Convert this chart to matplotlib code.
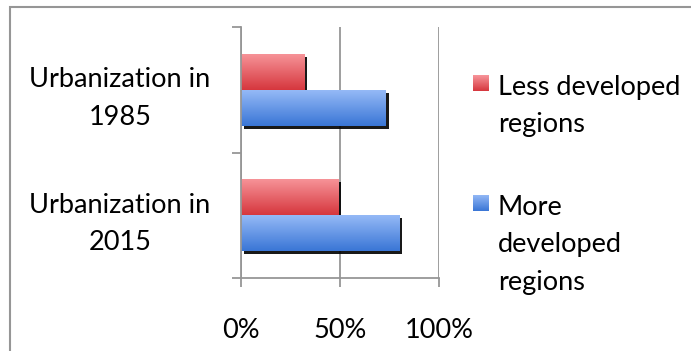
import numpy as np
import matplotlib
matplotlib.use("Agg")
import matplotlib.pyplot as plt
from matplotlib.colors import LinearSegmentedColormap
from matplotlib.transforms import ScaledTranslation
from matplotlib.patches import Rectangle

# data (share of population living in urban areas)
categories = ["Urbanization in\n1985", "Urbanization in\n2015"]
less_developed = [0.32, 0.49]
more_developed = [0.73, 0.80]
series_names = ["Less developed\nregions", "More\ndeveloped\nregions"]

red_top, red_bot = "#f7959a", "#d6373e"
blue_top, blue_bot = "#97bbf7", "#3a76d6"
grid_col = "#969696"
font = "Lato"
fsize = 19.5
lsp = 1.62

plt.rcParams['font.family'] = [font, 'DejaVu Sans']

fig = plt.figure(figsize=(6.91, 3.51), dpi=100)
ax = fig.add_axes([241 / 691, 1 - 278 / 351, 198 / 691, 251 / 351])

ypos = np.arange(len(categories))[::-1]  # first category at top
h = 0.287
shadow = ax.transData + ScaledTranslation(3 / 100, -3 / 100, fig.dpi_scale_trans)
grad = np.linspace(0, 1, 64).reshape(-1, 1)


def make_cmap(top, bottom):
    return LinearSegmentedColormap.from_list("g", [top, bottom])


def gradient_bar(y, w, top, bottom):
    ax.barh(y, w, height=h, color="black", alpha=0.9, zorder=2, transform=shadow)
    bar = ax.barh(y, w, height=h, color="none", zorder=3)[0]
    im = ax.imshow(grad, extent=(0, w, y - h / 2, y + h / 2), aspect="auto",
                   cmap=make_cmap(top, bottom), origin="upper", zorder=3)
    im.set_clip_path(bar)


for y, v in zip(ypos, less_developed):
    gradient_bar(y + h / 2, v, red_top, red_bot)
for y, v in zip(ypos, more_developed):
    gradient_bar(y - h / 2, v, blue_top, blue_bot)

ax.set_xlim(0, 1)
ax.set_ylim(-0.5, 1.5)

ax.set_xticks([0, 0.5, 1])
ax.set_xticklabels(["0%", "50%", "100%"])
ax.set_yticks([-0.5, 0.5, 1.5])
ax.set_yticklabels([])
ax.set_yticks(ypos, minor=True)
ax.set_yticklabels(categories, minor=True)
for t in ax.get_yticklabels(minor=True):
    t.set_multialignment("center")
    t.set_linespacing(lsp)

ax.tick_params(axis="x", direction="out", length=6.5, width=1.3, color=grid_col,
               labelsize=fsize, pad=22)
ax.tick_params(axis="y", which="major", direction="out", length=6.5, width=1.3, color=grid_col)
ax.tick_params(axis="y", which="minor", length=0, labelsize=fsize, pad=22)

ax.xaxis.grid(True, color=grid_col, linewidth=1.3)
ax.set_axisbelow(True)
for s in ["top", "right"]:
    ax.spines[s].set_visible(False)
for s in ["left", "bottom"]:
    ax.spines[s].set_color(grid_col)
    ax.spines[s].set_linewidth(1.3)
    ax.spines[s].set_zorder(4)

# legend, drawn by hand so the swatch sits at the first line
legend_cols = [(red_top, red_bot), (blue_top, blue_bot)]
sw_y = [75, 195]
for name, (ctop, cbot), y in zip(series_names, legend_cols, sw_y):
    sw = fig.add_axes([473 / 691, 1 - (y + 16) / 351, 16 / 691, 16 / 351])
    sw.imshow(grad, aspect="auto", cmap=make_cmap(ctop, cbot), origin="upper")
    sw.set_axis_off()
    fig.text(498 / 691, 1 - y / 351, name, fontsize=fsize, va="top",
             ha="left", linespacing=lsp)

# outer chart frame (cropped on the right and bottom)
fig.add_artist(Rectangle((9.5 / 691, -0.1), 1.2, 1 - 6.5 / 351 + 0.1,
                         transform=fig.transFigure, facecolor="none",
                         edgecolor=grid_col, linewidth=1.5))

fig.savefig("out.png", dpi=100)
